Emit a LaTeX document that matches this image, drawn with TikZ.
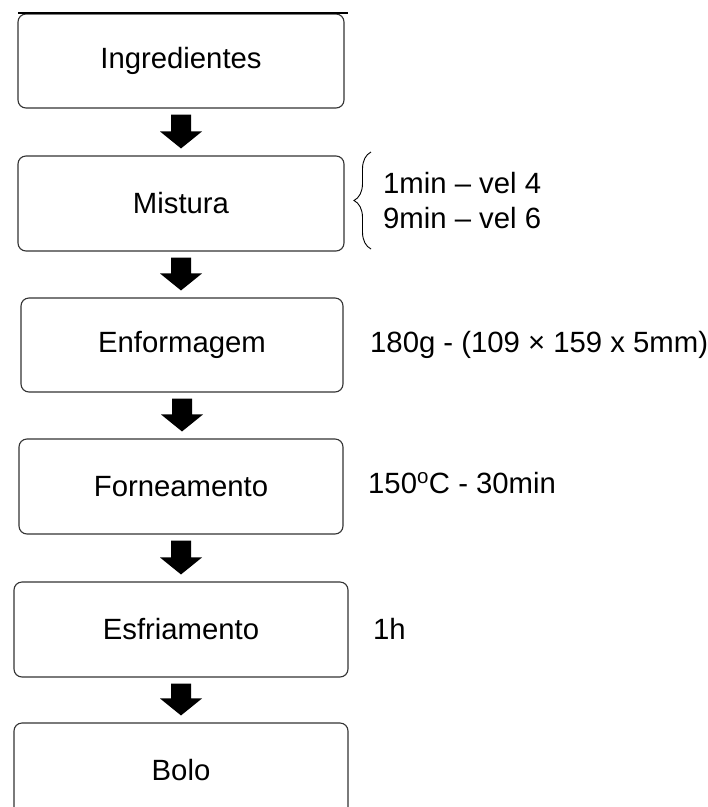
\documentclass[tikz,border=0pt]{standalone}
\usepackage{fontspec}
\setmainfont{Liberation Sans}
\usetikzlibrary{calc,decorations.pathreplacing}
\newcommand\blockarr[2]{%
  \coordinate (t) at ($(#1.south)+(0,6)$);
  \coordinate (p) at ($(#1.south |- #2.north)+(0,-7)$);
  \fill ($(t)+(-10,0)$) -- ($(p)+(-10,-17)$) -- ($(p)+(-21,-17)$) -- (p)
        -- ($(p)+(21,-17)$) -- ($(p)+(10,-17)$) -- ($(t)+(10,0)$) -- cycle;}
\begin{document}
\begin{tikzpicture}[x=1pt,y=-1pt,
  box/.style={draw=black!80, line width=1.1pt, rounded corners=8pt,
    minimum height=95pt, inner sep=0pt, font=\fontsize{29.3}{35}\selectfont},
  side/.style={anchor=base west, inner sep=0pt, font=\fontsize{29.3}{35}\selectfont}]
\clip (0,0) rectangle (708,807);
\fill[white] (0,0) rectangle (708,807);
\node[box, minimum width=326pt, minimum height=94pt] (ing) at (181,61) {Ingredientes};
\node[box, minimum width=326pt] (mis) at (181,203.5) {Mistura};
\node[box, minimum width=322pt, minimum height=94pt] (enf) at (182,345) {Enformagem};
\node[box, minimum width=324pt] (forn) at (181,486.5) {Forneamento};
\node[box, minimum width=334pt] (esf) at (181,629.5) {Esfriamento};
\node[box, minimum width=334pt] (bolo) at (181,770.5) {Bolo};
\draw[line width=1.5pt] (18,13) -- (348,13);
\blockarr{ing}{mis}
\blockarr{mis}{enf}
\blockarr{enf}{forn}
\blockarr{forn}{esf}
\blockarr{esf}{bolo}
\draw[line width=0.9pt, decorate, decoration={brace, amplitude=17pt, aspect=0.5}] (371,249) -- (371,152);
\node[side] (m1) at (383,193) {1min – vel 4};
\node[side] (m2) at (383,228) {9min – vel 6};
\node[side] (e1) at (370,352) {180g - (109 × 159 x 5mm)};
\node[side] (f1) at (368,493) {150\textsuperscript{o}C - 30min};
\node[side] (s1) at (373,639) {1h};
\end{tikzpicture}
\end{document}
